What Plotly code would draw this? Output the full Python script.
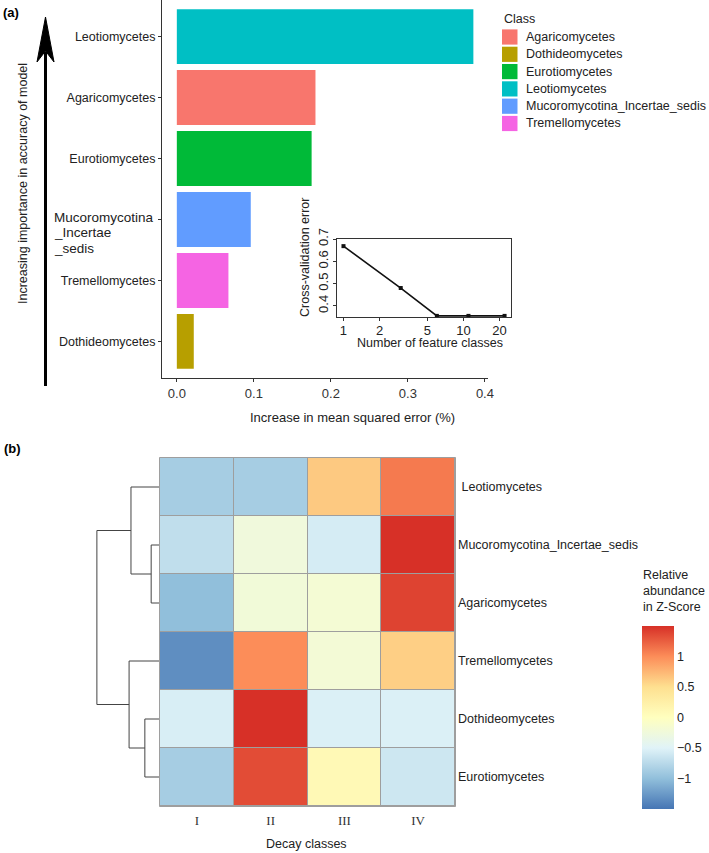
import plotly.graph_objects as go

W, H = 709, 853


def px(x):
    return x / W


def py(y):
    return 1 - y / H


FONT = "Liberation Sans, Arial, sans-serif"
TXT = "#222222"

# ---------------- Panel (a): variable importance ----------------
bar_classes = ["Leotiomycetes", "Agaricomycetes", "Eurotiomycetes",
               "Mucoromycotina_Incertae_sedis", "Tremellomycetes", "Dothideomycetes"]
bar_values = [0.385, 0.180, 0.175, 0.096, 0.067, 0.022]
legend_classes = ["Agaricomycetes", "Dothideomycetes", "Eurotiomycetes",
                  "Leotiomycetes", "Mucoromycotina_Incertae_sedis", "Tremellomycetes"]
legend_colors = ["#F8766D", "#B79F00", "#00BA38", "#00BFC4", "#619CFF", "#F564E3"]
bar_x_ticks = [0.0, 0.1, 0.2, 0.3, 0.4]
mucor_label_lines = ["Mucoromycotina", "_Incertae", "_sedis"]

# ---------------- Inset: rfcv ----------------
n_features = [1, 3, 6, 11, 22]
cv_error = [0.668, 0.48, 0.355, 0.355, 0.355]
inset_x_ticks = [1, 2, 5, 10, 20]
inset_y_ticks = [0.4, 0.5, 0.6, 0.7]

# ---------------- Panel (b): heatmap ----------------
decay_classes = ["I", "II", "III", "IV"]
heat_rows = [" Leotiomycetes", "Mucoromycotina_Incertae_sedis", "Agaricomycetes",
             "Tremellomycetes", "Dothideomycetes", "Eurotiomycetes"]
z_scores = [
    [-0.87, -0.87, 0.64, 1.10],
    [-0.70, -0.25, -0.57, 1.50],
    [-1.00, -0.22, -0.18, 1.40],
    [-1.33, 1.00, -0.20, 0.60],
    [-0.55, 1.50, -0.53, -0.53],
    [-0.87, 1.35, 0.10, -0.62],
]
cbar_ticks = [-1, -0.5, 0, 0.5, 1]
cbar_title_lines = ["Relative", "abundance", "in Z-Score"]
heat_colors = ["#4575B4", "#91BFDB", "#E0F3F8", "#FFFFBF", "#FEE090", "#FC8D59", "#D73027"]
# dendrogram merges: (child a, child b, height); leaves 0-5, new clusters numbered from 6
dendro_merges = [(1, 2, 0.14), (0, 6, 0.46), (4, 5, 0.24), (3, 8, 0.49), (7, 9, 1.0)]

fig = go.Figure()

# bars
color_of = dict(zip(legend_classes, legend_colors))
fig.add_trace(go.Bar(
    x=bar_values, y=bar_classes, orientation="h", width=0.9,
    marker=dict(color=[color_of[c] for c in bar_classes], line=dict(width=0)),
    xaxis="x", yaxis="y", showlegend=False, hoverinfo="x+y"))

# inset line
fig.add_trace(go.Scatter(
    x=n_features, y=cv_error, mode="lines+markers",
    line=dict(color="#111111", width=1.6),
    marker=dict(color="#111111", size=4, symbol="square"),
    xaxis="x2", yaxis="y2", showlegend=False, cliponaxis=False))

# heatmap
n = len(heat_colors)
cscale = [[i / (n - 1), c] for i, c in enumerate(heat_colors)]
fig.add_trace(go.Heatmap(
    z=z_scores, x=list(range(len(decay_classes))), y=list(range(len(heat_rows))),
    colorscale=cscale, zmin=-1.5, zmax=1.5, xgap=1, ygap=1,
    xaxis="x3", yaxis="y3",
    colorbar=dict(
        x=px(642), xanchor="left", xpad=0, ypad=0,
        y=py(809), yanchor="bottom", len=183, lenmode="pixels",
        thickness=32, outlinewidth=0, ticks="", tickvals=cbar_ticks,
        tickfont=dict(family=FONT, size=12.5, color=TXT))))

# dendrogram
pos = {i: float(i) for i in range(len(heat_rows))}
hgt = {i: 0.0 for i in range(len(heat_rows))}
dx, dy = [], []
for k, (a, b, h) in enumerate(dendro_merges):
    node = len(heat_rows) + k
    dx += [hgt[a], h, h, hgt[b], None]
    dy += [pos[a], pos[a], pos[b], pos[b], None]
    pos[node] = (pos[a] + pos[b]) / 2
    hgt[node] = h
fig.add_trace(go.Scatter(x=dx, y=dy, mode="lines", line=dict(color="#444444", width=1),
                         xaxis="x4", yaxis="y4", showlegend=False, hoverinfo="skip"))

axis_common = dict(showgrid=False, zeroline=False)

annotations = []
shapes = []

# panel (a) tick labels (Mucor label drawn separately)
yticktext = [c if c != "Mucoromycotina_Incertae_sedis" else "" for c in bar_classes]

fig.update_layout(
    width=W, height=H, margin=dict(l=0, r=0, t=0, b=0, autoexpand=False),
    paper_bgcolor="white", plot_bgcolor="rgba(0,0,0,0)",
    font=dict(family=FONT, size=12.5, color=TXT),
    showlegend=False, barmode="overlay",
    xaxis=dict(domain=[px(162), px(488)], range=[-0.01925, 0.404], anchor="y",
               showline=True, linecolor="#333333", linewidth=1,
               ticks="outside", ticklen=3, tickcolor="#333333",
               tickvals=bar_x_ticks, tickformat=".1f",
               tickfont=dict(size=13, color="#333333"), **axis_common),
    yaxis=dict(domain=[py(378), 1.0], range=[-0.6, 5.6], anchor="x",
               type="category", categoryorder="array",
               categoryarray=list(reversed(bar_classes)),
               tickvals=bar_classes, ticktext=yticktext,
               showline=True, linecolor="#333333", linewidth=1,
               ticks="outside", ticklen=3, tickcolor="#333333",
               tickfont=dict(size=12.5, color="#222222"), **axis_common),
    xaxis2=dict(domain=[px(337), px(511)], type="log", range=[-0.054, 1.396], anchor="y2",
                showline=True, mirror=True, linecolor="#333333", linewidth=1,
                ticks="outside", ticklen=3, tickcolor="#333333", ticklabelstandoff=-2,
                tickvals=inset_x_ticks, ticktext=[str(v) for v in inset_x_ticks],
                tickfont=dict(size=13, color="#222222"), **axis_common),
    yaxis2=dict(domain=[py(317), py(239)], range=[0.35, 0.70], anchor="x2",
                showline=True, mirror=True, linecolor="#333333", linewidth=1,
                ticks="outside", ticklen=3, tickcolor="#333333",
                tickvals=inset_y_ticks, tickformat=".1f", tickangle=-90,
                tickfont=dict(size=13, color="#222222"), **axis_common),
    xaxis3=dict(domain=[px(160), px(455)], range=[-0.5, 3.5], anchor="y3",
                tickvals=list(range(len(decay_classes))), ticktext=decay_classes,
                ticks="", showline=False, ticklabelstandoff=5,
                tickfont=dict(family="Liberation Serif, Times New Roman, serif", size=13, color="#333333"),
                **axis_common),
    yaxis3=dict(domain=[py(806), py(458)], range=[5.5, -0.5], anchor="x3", side="right",
                tickvals=list(range(len(heat_rows))), ticktext=heat_rows,
                ticks="", showline=False, ticklabelstandoff=2,
                tickfont=dict(size=12.5, color="#222222"), **axis_common),
    xaxis4=dict(domain=[px(95), px(160)], range=[1.03, 0.0], anchor="y4",
                visible=False, **axis_common),
    yaxis4=dict(domain=[py(806), py(458)], range=[5.5, -0.5], anchor="x4",
                visible=False, **axis_common),
)

# heatmap cell borders (background + outline)
shapes.append(dict(type="rect", xref="paper", yref="paper",
                   x0=px(159.5), x1=px(455.5), y0=py(806.5), y1=py(457.5),
                   fillcolor="#9E9E9E", line=dict(width=0), layer="below"))
shapes.append(dict(type="rect", xref="paper", yref="paper",
                   x0=px(159.5), x1=px(455.5), y0=py(806.5), y1=py(457.5),
                   fillcolor="rgba(0,0,0,0)", line=dict(color="#9E9E9E", width=1), layer="above"))

# importance arrow
shapes.append(dict(type="line", xref="paper", yref="paper",
                   x0=px(45.5), x1=px(45.5), y0=py(386), y1=py(52),
                   line=dict(color="black", width=3)))
shapes.append(dict(type="path", xref="paper", yref="paper",
                   path=f"M {px(45.5)},{py(17)} L {px(54)},{py(62)} L {px(45.5)},{py(51)} L {px(37)},{py(62)} Z",
                   fillcolor="black", line=dict(color="black", width=1)))

# manual legend
annotations.append(dict(text="Class", x=px(502), y=py(19), xref="paper", yref="paper",
                        xanchor="left", yanchor="middle", showarrow=False,
                        font=dict(size=12.5, color=TXT)))
for i, (name, col) in enumerate(zip(legend_classes, legend_colors)):
    cy = 37 + i * 17.3
    shapes.append(dict(type="rect", xref="paper", yref="paper",
                       x0=px(502), x1=px(517.5), y0=py(cy + 7.6), y1=py(cy - 7.6),
                       fillcolor=col, line=dict(width=0)))
    annotations.append(dict(text=name, x=px(524), y=py(cy), xref="paper", yref="paper",
                            xanchor="left", yanchor="middle", showarrow=False,
                            font=dict(size=12.5, color=TXT)))

# Mucoromycotina multi-line tick label
for yy, line in zip([217, 232.5, 248], mucor_label_lines):
    annotations.append(dict(text=line, x=px(52), y=py(yy), xref="paper", yref="paper",
                            xanchor="left", yanchor="middle", showarrow=False,
                            font=dict(size=13.5, color=TXT)))

# colour bar title
for yy, line in zip([575, 591, 606.5], cbar_title_lines):
    annotations.append(dict(text=line, x=px(641), y=py(yy), xanchor="left", yanchor="middle",
                            font=dict(size=12.5, color=TXT)))

# other texts
annotations += [
    dict(text="<b>(a)</b>", x=px(1), y=py(12), xanchor="left", yanchor="middle",
         font=dict(size=13, color="black")),
    dict(text="<b>(b)</b>", x=px(2), y=py(448), xanchor="left", yanchor="middle",
         font=dict(size=13, color="black")),
    dict(text="Increasing importance in accuracy of model", x=px(23), y=py(184),
         textangle=-90, xanchor="center", yanchor="middle", font=dict(size=12.5, color=TXT)),
    dict(text="Increase in mean squared error (%)", x=px(352), y=py(417),
         xanchor="center", yanchor="middle", font=dict(size=13, color=TXT)),
    dict(text="Cross-validation error", x=px(305), y=py(258), textangle=-90,
         xanchor="center", yanchor="middle", font=dict(size=12.5, color=TXT)),
    dict(text="Number of feature classes", x=px(430), y=py(343),
         xanchor="center", yanchor="middle", font=dict(size=12.5, color=TXT)),
    dict(text="Decay classes", x=px(306), y=py(844),
         xanchor="center", yanchor="middle", font=dict(size=12.5, color=TXT)),
]
for a in annotations:
    a.setdefault("xref", "paper")
    a.setdefault("yref", "paper")
    a.setdefault("showarrow", False)

fig.update_layout(shapes=shapes, annotations=annotations)
fig.write_html("out.html")
